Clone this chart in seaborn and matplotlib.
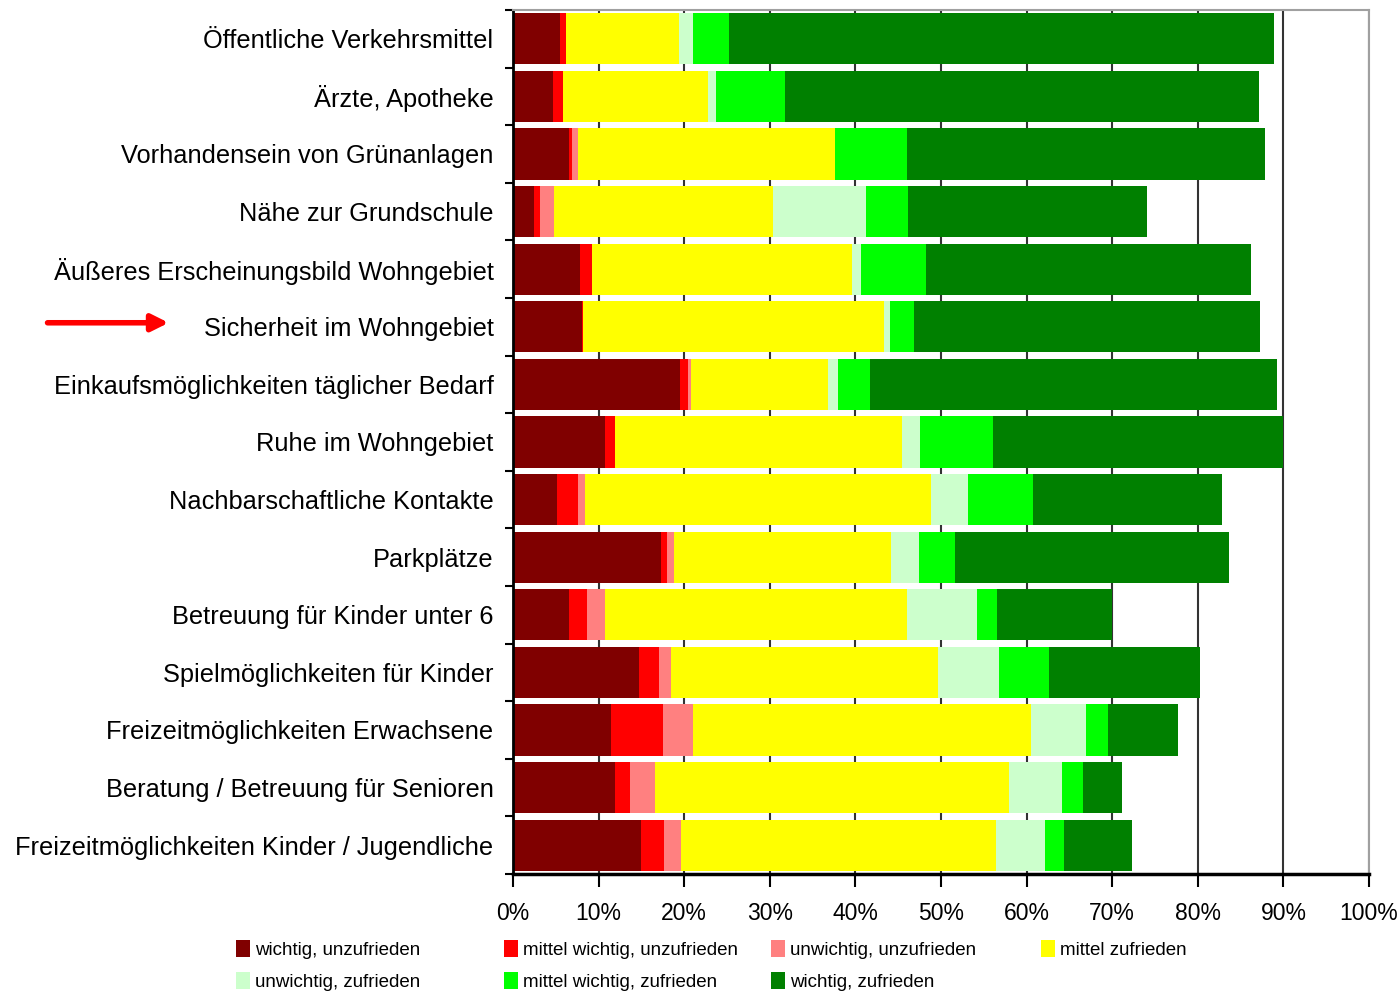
import numpy as np
import pandas as pd
import matplotlib
matplotlib.use("Agg")
import matplotlib.pyplot as plt
import seaborn as sns
from matplotlib.patches import Patch

# Kategorien (von oben nach unten)
categories = [
    "Öffentliche Verkehrsmittel",
    "Ärzte, Apotheke",
    "Vorhandensein von Grünanlagen",
    "Nähe zur Grundschule",
    "Äußeres Erscheinungsbild Wohngebiet",
    "Sicherheit im Wohngebiet",
    "Einkaufsmöglichkeiten täglicher Bedarf",
    "Ruhe im Wohngebiet",
    "Nachbarschaftliche Kontakte",
    "Parkplätze",
    "Betreuung für Kinder unter 6",
    "Spielmöglichkeiten für Kinder",
    "Freizeitmöglichkeiten Erwachsene",
    "Beratung / Betreuung für Senioren",
    "Freizeitmöglichkeiten Kinder / Jugendliche",
]

# Anteile in % je Antwortgruppe
wichtig_unzufrieden = [5.5, 4.7, 6.5, 2.5, 7.8, 8.1, 19.5, 10.8, 5.1, 17.3, 6.5, 14.7, 11.5, 11.9, 14.9]
mittel_wichtig_unzufrieden = [0.7, 1.1, 0.4, 0.7, 1.4, 0.1, 0.9, 1.1, 2.5, 0.7, 2.2, 2.4, 6.0, 1.8, 2.7]
unwichtig_unzufrieden = [0.0, 0.0, 0.7, 1.6, 0.0, 0.0, 0.4, 0.0, 0.8, 0.8, 2.0, 1.3, 3.5, 2.9, 2.0]
mittel_zufrieden = [13.2, 17.0, 30.0, 25.6, 30.4, 35.1, 16.0, 33.6, 40.4, 25.4, 35.3, 31.3, 39.5, 41.3, 36.8]
unwichtig_zufrieden = [1.6, 0.9, 0.0, 10.8, 1.0, 0.7, 1.2, 2.0, 4.4, 3.2, 8.2, 7.1, 6.4, 6.2, 5.8]
mittel_wichtig_zufrieden = [4.2, 8.1, 8.4, 5.0, 7.7, 2.8, 3.7, 8.6, 7.5, 4.2, 2.4, 5.8, 2.6, 2.5, 2.2]
wichtig_zufrieden = [63.7, 55.3, 41.8, 27.9, 37.9, 40.5, 47.5, 33.8, 22.1, 32.1, 13.4, 17.7, 8.2, 4.6, 7.9]

series_names = [
    "wichtig, unzufrieden",
    "mittel wichtig, unzufrieden",
    "unwichtig, unzufrieden",
    "mittel zufrieden",
    "unwichtig, zufrieden",
    "mittel wichtig, zufrieden",
    "wichtig, zufrieden",
]
series_values = [
    wichtig_unzufrieden, mittel_wichtig_unzufrieden, unwichtig_unzufrieden,
    mittel_zufrieden, unwichtig_zufrieden, mittel_wichtig_zufrieden, wichtig_zufrieden,
]
colors = ["#800000", "#FF0000", "#FF8080", "#FFFF00", "#CCFFCC", "#00FF00", "#008000"]

sns.set_style("white")
plt.rcParams["font.family"] = ["Liberation Sans", "DejaVu Sans"]
plt.rcParams["text.color"] = "black"
plt.rcParams["xtick.color"] = "black"
plt.rcParams["ytick.color"] = "black"

df = pd.DataFrame(dict(zip(series_names, series_values)), index=categories)
cum = df.cumsum(axis=1)

fig = plt.figure(figsize=(14, 9.93), dpi=100)
ax = fig.add_axes([513 / 1400, 1 - 874 / 993, 856 / 1400, 864 / 993])

# gestapelte Balken: kumulierte Summen von hinten nach vorne übereinander zeichnen
for name, color in reversed(list(zip(series_names, colors))):
    sns.barplot(x=cum[name].values, y=categories, color=color, saturation=1,
                width=0.89, errorbar=None, ax=ax, linewidth=0)

ax.set_xlim(0, 100)
ax.set_ylim(14.5, -0.5)
ax.set_xticks(np.arange(0, 101, 10))
ax.set_xticklabels([f"{v}%" for v in range(0, 101, 10)])
ax.set_xlabel("")
ax.set_ylabel("")

ax.set_axisbelow(True)
ax.xaxis.grid(True, color="#333333", lw=1.5)
ax.yaxis.grid(False)

ax.set_yticks(np.arange(-0.5, 15, 1), minor=True)
ax.tick_params(axis="y", which="major", length=0, pad=14, labelsize=18.3)
ax.tick_params(axis="y", which="minor", length=6, width=1.5, direction="out", color="black", left=True)
ax.tick_params(axis="x", length=9, width=1.5, direction="out", color="black", pad=11,
               labelsize=16.5, bottom=True)

for s in ["top", "right"]:
    ax.spines[s].set_color("#A0A0A0")
    ax.spines[s].set_linewidth(1.5)
ax.spines["left"].set_color("black")
ax.spines["left"].set_linewidth(2)
ax.spines["bottom"].set_color("black")
ax.spines["bottom"].set_linewidth(2.5)

# roter Pfeil auf "Sicherheit im Wohngebiet"
ax.annotate("", xy=(-0.399, 4.93), xytext=(-0.547, 4.93),
            xycoords=("axes fraction", "data"), textcoords=("axes fraction", "data"),
            arrowprops=dict(arrowstyle="-|>,head_length=1.0,head_width=0.5",
                            color="#FF0000", lw=4),
            annotation_clip=False)

# Legende: 4 Spalten mit festen Positionen wie im Original
handles = [Patch(facecolor=c, edgecolor="none") for c in colors]
col_items = [[0, 4], [1, 5], [2, 6], [3]]
col_x = [236, 504, 771, 1041]
for items, x in zip(col_items, col_x):
    fig.legend([handles[i] for i in items], [series_names[i] for i in items],
               loc="upper left", bbox_to_anchor=(x / 1400, 1 - 940 / 993),
               frameon=False, fontsize=13.5, handlelength=0.75, handleheight=1.0,
               handletextpad=0.25, labelspacing=0.72, borderaxespad=0, borderpad=0)

fig.savefig("out.png", dpi=100)
